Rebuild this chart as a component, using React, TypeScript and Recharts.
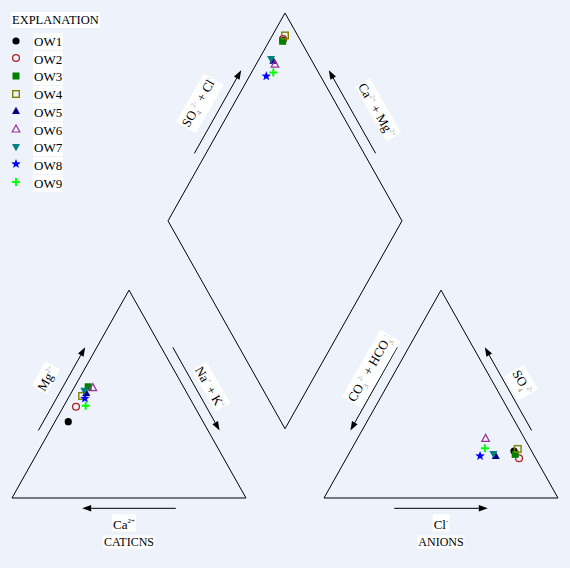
import React from 'react';
import { ScatterChart, Scatter, XAxis, YAxis, ReferenceLine } from 'recharts';

// Sample names and legend symbols
const SAMPLES = ['OW1', 'OW2', 'OW3', 'OW4', 'OW5', 'OW6', 'OW7', 'OW8', 'OW9'];
const SYMBOLS = ['dot', 'circle', 'square', 'openSquare', 'triangle', 'openTriangle', 'downTriangle', 'star', 'plus'];
const COLORS = ['#000000', '#b22222', '#008000', '#808000', '#000080', '#993399', '#008080', '#0000ff', '#00ff00'];

// Cations, percent of meq/L
const CA = [57.6, 50.7, 40.7, 45.5, 43.0, 38.9, 43.3, 44.9, 46.3];
const MG = [36.7, 43.9, 53.5, 49.1, 50.5, 53.1, 51.6, 47.9, 44.4];
const NAK = [5.7, 5.4, 5.8, 5.4, 6.5, 8.0, 5.1, 7.2, 9.3];

// Anions, percent of meq/L
const CL = [69.9, 73.8, 71.2, 71.0, 63.3, 54.7, 61.8, 56.6, 56.8];
const SO4 = [22.6, 19.1, 21.0, 23.6, 20.2, 28.7, 21.2, 20.2, 23.9];
const HCO3 = [7.5, 7.1, 7.8, 5.4, 16.5, 16.6, 17.0, 23.2, 19.3];

// Piper geometry (triangle side = 100)
const GAP = 100 / 3;
const S3 = Math.sqrt(3);
const H = 50 * S3;
const YB = (GAP / 2) * S3;

const BG = '#eef2fb';
const FONT = '"Liberation Serif", "Times New Roman", serif';

type Pt = { x: number; y: number };

const cationPt = (ca: number, mg: number, na: number): Pt => ({ x: na + mg / 2, y: (mg * H) / 100 });
const anionPt = (cl: number, so4: number): Pt => ({ x: 100 + GAP + cl + so4 / 2, y: (so4 * H) / 100 });
const diamondPt = (c: Pt, a: Pt): Pt => {
  const t = a.x - c.x + (a.y - c.y) / S3;
  return { x: c.x + t / 2, y: c.y + (t * S3) / 2 };
};

const seriesData = SAMPLES.map((name, i) => {
  const c = cationPt(CA[i], MG[i], NAK[i]);
  const a = anionPt(CL[i], SO4[i]);
  return [c, a, diamondPt(c, a)];
});

// outlines
const L0 = { x: 0, y: 0 }, L1 = { x: 100, y: 0 }, L2 = { x: 50, y: H };
const R0 = { x: 100 + GAP, y: 0 }, R1 = { x: 200 + GAP, y: 0 }, R2 = { x: 150 + GAP, y: H };
const DB = { x: 100 + GAP / 2, y: YB }, DL = { x: 50 + GAP / 2, y: YB + H };
const DR = { x: 150 + GAP / 2, y: YB + H }, DT = { x: 100 + GAP / 2, y: YB + 2 * H };
const EDGES: [Pt, Pt][] = [
  [L0, L1], [L1, L2], [L2, L0],
  [R0, R1], [R1, R2], [R2, R0],
  [DB, DL], [DL, DT], [DT, DR], [DR, DB],
];

// arrow alongside an edge, offset outward; from t0 to t1 along a->b
const along = (a: Pt, b: Pt, t0: number, t1: number, off: number, out: Pt): [Pt, Pt] => {
  const dx = b.x - a.x, dy = b.y - a.y;
  const p = (t: number) => ({ x: a.x + dx * t + out.x * off, y: a.y + dy * t + out.y * off });
  return [p(t0), p(t1)];
};
const OFF = 4.3;
const ARROWS: [Pt, Pt][] = [
  along(L0, L2, 0.3, 0.7, OFF, { x: -S3 / 2, y: 0.5 }), // Mg up
  along(L2, L1, 0.3, 0.7, OFF, { x: S3 / 2, y: 0.5 }), // Na+K down
  along(L1, L0, 0.3, 0.7, OFF, { x: 0, y: -1 }), // Ca left
  along(R2, R0, 0.3, 0.7, OFF, { x: -S3 / 2, y: 0.5 }), // CO3 down
  along(R1, R2, 0.3, 0.7, OFF, { x: S3 / 2, y: 0.5 }), // SO4 up
  along(R0, R1, 0.3, 0.7, OFF, { x: 0, y: -1 }), // Cl right
  along(DL, DT, 0.3, 0.7, OFF, { x: -S3 / 2, y: 0.5 }), // SO4+Cl up
  along(DR, DT, 0.3, 0.7, OFF, { x: S3 / 2, y: 0.5 }), // Ca+Mg up
];

const arrowShape = (props: any) => {
  const { x1, y1, x2, y2 } = props;
  const ang = Math.atan2(y2 - y1, x2 - x1);
  const c = Math.cos(ang), s = Math.sin(ang);
  const bx = x2 - 9 * c, by = y2 - 9 * s;
  return (
    <g>
      <line x1={x1} y1={y1} x2={bx} y2={by} stroke="#000" strokeWidth={1} />
      <polygon points={`${x2},${y2} ${bx - 3.2 * s},${by + 3.2 * c} ${bx + 3.2 * s},${by - 3.2 * c}`} fill="#000" />
    </g>
  );
};

const Marker = ({ cx, cy, kind, color }: { cx: number; cy: number; kind: string; color: string }) => {
  switch (kind) {
    case 'dot':
      return <circle cx={cx} cy={cy} r={3.6} fill={color} />;
    case 'circle':
      return <circle cx={cx} cy={cy} r={3.4} fill="none" stroke={color} strokeWidth={1.3} />;
    case 'square':
      return <rect x={cx - 3.5} y={cy - 3.5} width={7} height={7} fill={color} />;
    case 'openSquare':
      return <rect x={cx - 3.3} y={cy - 3.3} width={6.6} height={6.6} fill="none" stroke={color} strokeWidth={1.4} />;
    case 'triangle':
      return <polygon points={`${cx},${cy - 4.2} ${cx + 4},${cy + 3} ${cx - 4},${cy + 3}`} fill={color} />;
    case 'openTriangle':
      return <polygon points={`${cx},${cy - 4} ${cx + 3.8},${cy + 3} ${cx - 3.8},${cy + 3}`} fill="none" stroke={color} strokeWidth={1.2} />;
    case 'downTriangle':
      return <polygon points={`${cx - 4},${cy - 3} ${cx + 4},${cy - 3} ${cx},${cy + 4.2}`} fill={color} />;
    case 'star': {
      const pts: string[] = [];
      for (let k = 0; k < 10; k++) {
        const r = k % 2 === 0 ? 5 : 2.1;
        const a = -Math.PI / 2 + (k * Math.PI) / 5;
        pts.push(`${cx + r * Math.cos(a)},${cy + r * Math.sin(a)}`);
      }
      return <polygon points={pts.join(' ')} fill={color} />;
    }
    case 'plus':
      return <path d={`M${cx - 4},${cy}H${cx + 4}M${cx},${cy - 4}V${cy + 4}`} stroke={color} strokeWidth={2} />;
    default:
      return null;
  }
};

const Sup = ({ children }: { children: React.ReactNode }) => (
  <span style={{ fontSize: 7, color: '#aaa', verticalAlign: 'super' }}>{children}</span>
);
const Sub = ({ children }: { children: React.ReactNode }) => (
  <span style={{ fontSize: 7, color: '#888', verticalAlign: 'sub' }}>{children}</span>
);

const Label = ({ x, y, angle = 0, size = 12, children }: { x: number; y: number; angle?: number; size?: number; children: React.ReactNode }) => (
  <div
    style={{
      position: 'absolute', left: x, top: y, transform: `translate(-50%, -50%) rotate(${angle}deg)`,
      background: '#fff', fontFamily: FONT, fontSize: size, lineHeight: `${size + 1}px`, whiteSpace: 'nowrap', color: '#000',
      padding: '0 1px',
    }}
  >
    {children}
  </div>
);

const App: React.FC = () => {
  return (
    <div style={{ position: 'fixed', left: 0, top: 0, width: 570, height: 568, background: BG, overflow: 'hidden' }}>
      <ScatterChart width={570} height={568} margin={{ top: 0, right: 0, bottom: 0, left: 0 }}>
        <XAxis type="number" dataKey="x" domain={[-5.128, 238.46]} allowDataOverflow hide />
        <YAxis type="number" dataKey="y" domain={[-29.17, 207.5]} allowDataOverflow hide />
        {EDGES.map((seg, i) => (
          <ReferenceLine key={`e${i}`} segment={seg} stroke="#000" strokeWidth={1} ifOverflow="visible" />
        ))}
        {ARROWS.map((seg, i) => (
          <ReferenceLine key={`a${i}`} segment={seg} shape={arrowShape} ifOverflow="visible" />
        ))}
        {SAMPLES.map((name, i) => (
          <Scatter
            key={name}
            name={name}
            data={seriesData[i]}
            isAnimationActive={false}
            shape={(p: any) => <Marker cx={p.cx} cy={p.cy} kind={SYMBOLS[i]} color={COLORS[i]} />}
          />
        ))}
      </ScatterChart>

      {/* Explanation */}
      <div style={{ position: 'absolute', left: 11, top: 12, background: '#fff', fontFamily: FONT, fontSize: 12.5, lineHeight: '16px', padding: '0 1px' }}>
        EXPLANATION
      </div>
      {SAMPLES.map((name, i) => (
        <div key={name} style={{ position: 'absolute', left: 8, top: 33 + i * 17.7, height: 17, display: 'flex', alignItems: 'center' }}>
          <svg width={16} height={16} style={{ marginRight: 9 }}>
            <Marker cx={8} cy={7} kind={SYMBOLS[i]} color={COLORS[i]} />
          </svg>
          <span style={{ background: '#fff', fontFamily: FONT, fontSize: 13, lineHeight: '17px', padding: '0 1px' }}>{name}</span>
        </div>
      ))}

      {/* axis labels */}
      <Label x={46} y={378} angle={-60} size={13}>Mg<Sup>2+</Sup></Label>
      <Label x={211} y={387} angle={60} size={13}>Na<Sup>+</Sup> + K<Sup>+</Sup></Label>
      <Label x={371} y={369} angle={-60} size={13}>CO<Sub>3</Sub><Sup>2-</Sup> + HCO<Sub>3</Sub><Sup>-</Sup></Label>
      <Label x={521} y={383} angle={60} size={13}>SO<Sub>4</Sub><Sup>2-</Sup></Label>
      <Label x={200} y={103} angle={-60} size={13}>SO<Sub>4</Sub><Sup>2-</Sup> + Cl<Sup>-</Sup></Label>
      <Label x={378} y={110} angle={60} size={13}>Ca<Sup>2+</Sup> + Mg<Sup>2+</Sup></Label>
      <Label x={124} y={523} size={13}>Ca<span style={{ fontSize: 7, verticalAlign: 'super' }}>2+</span></Label>
      <Label x={129} y={542}>CATICNS</Label>
      <Label x={441} y={523} size={13}>Cl<span style={{ fontSize: 7, verticalAlign: 'super' }}>-</span></Label>
      <Label x={441} y={542}>ANIONS</Label>
    </div>
  );
};

export default App;
